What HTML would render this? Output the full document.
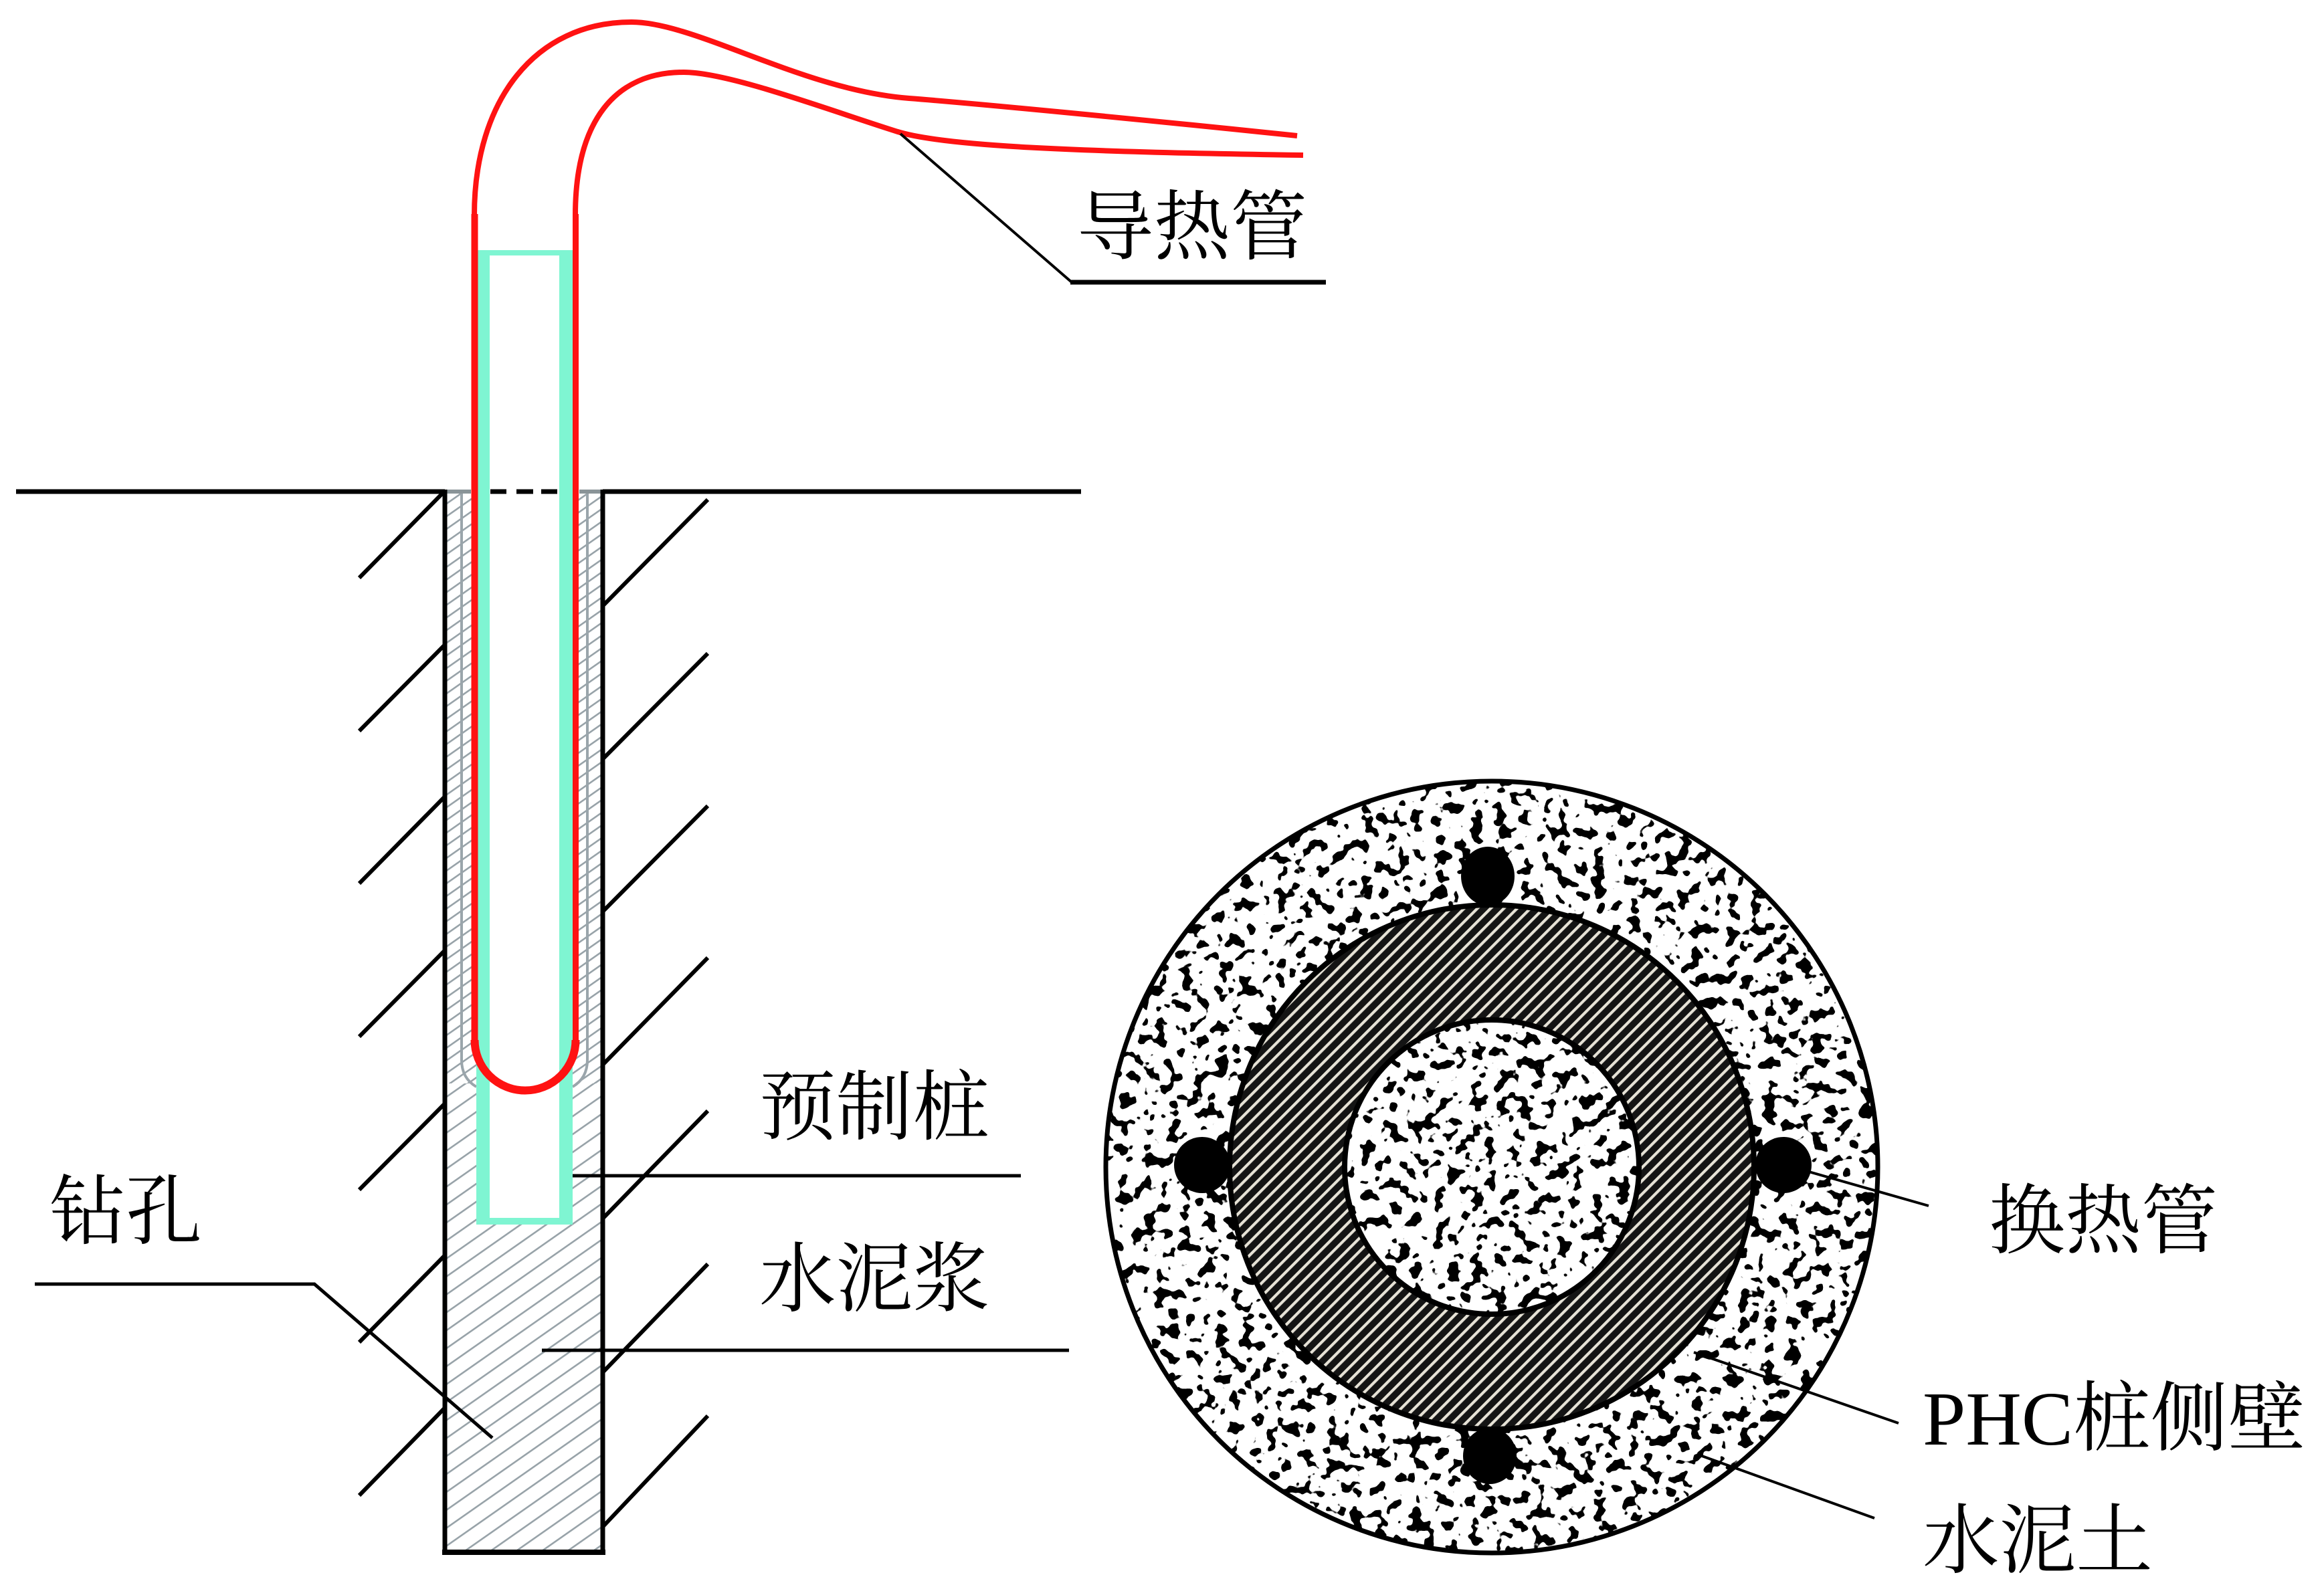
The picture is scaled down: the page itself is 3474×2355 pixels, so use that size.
<!DOCTYPE html>
<html><head><meta charset="utf-8"><style>
html,body{margin:0;padding:0;background:#fff;}
svg{display:block;}
</style></head><body>
<svg width="3474" height="2355" viewBox="0 0 3474 2355" xmlns="http://www.w3.org/2000/svg">
<defs>
  <pattern id="hA" width="40" height="15.5" patternUnits="userSpaceOnUse" patternTransform="rotate(-35)">
    <rect x="0" y="6.5" width="40" height="2.6" fill="#97a2a8"/>
  </pattern>
  <pattern id="hB" width="40" height="22" patternUnits="userSpaceOnUse" patternTransform="rotate(-35)">
    <rect x="0" y="9" width="40" height="2.6" fill="#97a2a8"/>
  </pattern>
  <pattern id="rh" width="40" height="14" patternUnits="userSpaceOnUse" patternTransform="rotate(-45)">
    <rect width="40" height="14" fill="#141414"/>
    <rect y="0" width="40" height="4.2" fill="#e6e2d6"/>
  </pattern>
  <filter id="spk" filterUnits="userSpaceOnUse" x="1640" y="1150" width="1190" height="1200">
    <feTurbulence type="fractalNoise" baseFrequency="0.055" numOctaves="2" seed="11" result="t"/>
    <feColorMatrix in="t" type="matrix" values="0 0 0 0 0  0 0 0 0 0  0 0 0 0 0  -45 0 0 0 19.1"/>
  </filter>
  <clipPath id="outerC"><circle cx="2230" cy="1745" r="577"/></clipPath>
</defs>

<!-- ===== Bore hole hatch ===== -->
<rect x="665" y="735" width="236" height="885" fill="url(#hA)"/>
<rect x="665" y="1620" width="236" height="701" fill="url(#hB)"/>
<rect x="712" y="735" width="144" height="1095" fill="#fff"/>

<!-- gray inner lines -->
<path d="M690,735 L690,1585 Q690,1612 712,1625" fill="none" stroke="#9aa5ab" stroke-width="4"/>
<path d="M878,735 L878,1585 Q878,1612 856,1625" fill="none" stroke="#9aa5ab" stroke-width="4"/>

<!-- cyan pile -->
<rect x="712" y="374" width="20" height="1456" fill="#7ff5d2"/>
<rect x="836" y="374" width="20" height="1456" fill="#7ff5d2"/>
<rect x="712" y="374" width="144" height="8" fill="#7ff5d2"/>
<rect x="712" y="1821" width="144" height="10" fill="#7ff5d2"/>

<!-- ground line -->
<line x1="24" y1="735" x2="665" y2="735" stroke="#000" stroke-width="7"/>
<line x1="901" y1="735" x2="1616" y2="735" stroke="#000" stroke-width="7"/>
<line x1="668" y1="735" x2="704" y2="735" stroke="#8a9498" stroke-width="6"/>
<line x1="866" y1="735" x2="898" y2="735" stroke="#8a9498" stroke-width="6"/>
<line x1="733" y1="735" x2="757" y2="735" stroke="#000" stroke-width="7"/>
<line x1="772" y1="735" x2="797" y2="735" stroke="#000" stroke-width="7"/>
<line x1="809" y1="735" x2="833" y2="735" stroke="#000" stroke-width="7"/>

<!-- bore walls -->
<line x1="665" y1="732" x2="665" y2="2325" stroke="#000" stroke-width="7"/>
<line x1="901" y1="732" x2="901" y2="2325" stroke="#000" stroke-width="7"/>
<line x1="661" y1="2321" x2="905" y2="2321" stroke="#000" stroke-width="8"/>

<!-- soil lines -->
<g stroke="#000" stroke-width="6" stroke-linecap="butt">
  <line x1="537" y1="864" x2="665" y2="734"/>
  <line x1="537" y1="1093" x2="665" y2="964"/>
  <line x1="537" y1="1321" x2="665" y2="1191"/>
  <line x1="537" y1="1550" x2="665" y2="1421"/>
  <line x1="537" y1="1779" x2="665" y2="1650"/>
  <line x1="537" y1="2007" x2="665" y2="1877"/>
  <line x1="537" y1="2236" x2="665" y2="2105"/>
  <line x1="901" y1="906" x2="1058" y2="747"/>
  <line x1="901" y1="1135" x2="1058" y2="977"/>
  <line x1="901" y1="1363" x2="1058" y2="1205"/>
  <line x1="901" y1="1592" x2="1058" y2="1432"/>
  <line x1="901" y1="1822" x2="1058" y2="1661"/>
  <line x1="901" y1="2052" x2="1058" y2="1890"/>
  <line x1="901" y1="2283" x2="1058" y2="2117"/>
</g>

<!-- red U tube -->
<g fill="none" stroke="#ff1212" stroke-linecap="butt">
  <line x1="709.5" y1="320" x2="709.5" y2="1556" stroke-width="10"/>
  <line x1="860.5" y1="320" x2="860.5" y2="1556" stroke-width="9"/>
  <path d="M709.5,1555 A75.5,75.5 0 0 0 860.5,1555" stroke-width="12"/>
  <path d="M709,322 C709,150 800,33 944,33 C1040,33 1200,135 1359,147 C1450,154 1700,178 1939,203" stroke-width="8"/>
  <path d="M860,322 C860,180 920,108 1022,108 C1090,108 1240,165 1342,197 C1410,218 1600,227 1948,232" stroke-width="8"/>
</g>

<!-- leaders left -->
<g stroke="#000" fill="none">
  <line x1="1346" y1="200" x2="1602" y2="422" stroke-width="4"/>
  <line x1="1600" y1="422" x2="1982" y2="422" stroke-width="7"/>
  <line x1="856" y1="1758" x2="1526" y2="1758" stroke-width="5"/>
  <line x1="810" y1="2019" x2="1598" y2="2019" stroke-width="5"/>
  <polyline points="52,1920 470,1920 736,2150" stroke-width="5"/>
</g>

<!-- labels left -->
<g font-family="'Liberation Serif','Noto Serif CJK SC','Noto Sans CJK SC',serif" font-size="114" fill="#000">
  <text x="1610" y="379" textLength="344" lengthAdjust="spacingAndGlyphs">导热管</text>
  <text x="1135" y="1695" textLength="344" lengthAdjust="spacingAndGlyphs">预制桩</text>
  <text x="1135" y="1952" textLength="344" lengthAdjust="spacingAndGlyphs">水泥浆</text>
  <text x="74" y="1851" textLength="228" lengthAdjust="spacingAndGlyphs">钻孔</text>
</g>

<!-- ===== Cross section ===== -->
<circle cx="2230" cy="1745" r="577" fill="#fff"/>
<g clip-path="url(#outerC)">
  <rect x="1640" y="1150" width="1190" height="1200" fill="#000" filter="url(#spk)"/>
</g>
<circle cx="2230" cy="1745" r="577" fill="none" stroke="#000" stroke-width="7"/>
<path fill-rule="evenodd" fill="url(#rh)" stroke="#000" stroke-width="8"
  d="M1838,1745 A392,392 0 1 0 2622,1745 A392,392 0 1 0 1838,1745 Z M2010,1745 A220,220 0 1 0 2450,1745 A220,220 0 1 0 2010,1745 Z"/>
<g fill="#000">
  <ellipse cx="2224" cy="1310" rx="40" ry="44"/>
  <ellipse cx="1797" cy="1742" rx="42" ry="42"/>
  <ellipse cx="2666" cy="1742" rx="42" ry="42"/>
  <ellipse cx="2227" cy="2177" rx="40" ry="42"/>
</g>

<!-- leaders right -->
<g stroke="#000" stroke-width="4">
  <line x1="2690" y1="1748" x2="2883" y2="1803"/>
  <line x1="2532" y1="2022" x2="2838" y2="2128"/>
  <line x1="2544" y1="2177" x2="2802" y2="2270"/>
</g>

<!-- labels right -->
<g font-family="'Liberation Serif','Noto Serif CJK SC','Noto Sans CJK SC',serif" font-size="114" fill="#000">
  <text x="2973" y="1865" textLength="342" lengthAdjust="spacingAndGlyphs">换热管</text>
  <text x="2874" y="2160" textLength="572" lengthAdjust="spacingAndGlyphs">PHC桩侧壁</text>
  <text x="2874" y="2343" textLength="344" lengthAdjust="spacingAndGlyphs">水泥土</text>
</g>
</svg>
</body></html>
